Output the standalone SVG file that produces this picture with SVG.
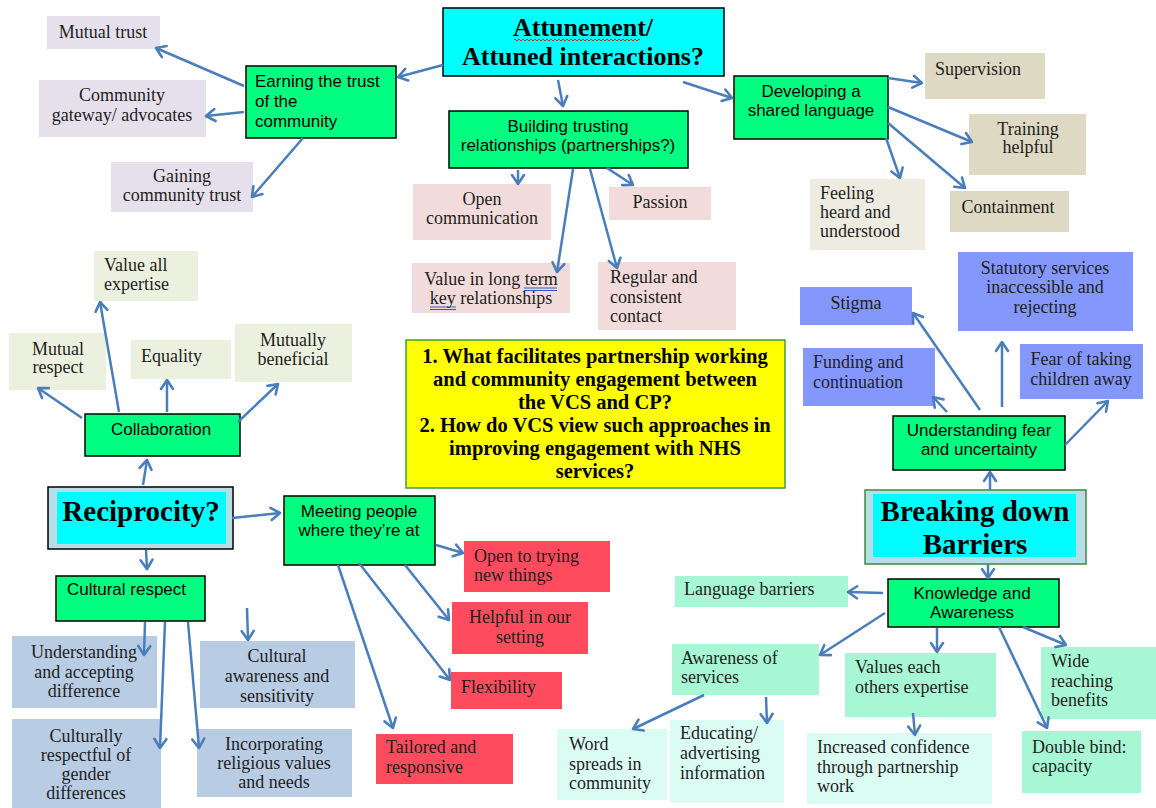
<svg xmlns="http://www.w3.org/2000/svg" width="1156" height="808" viewBox="0 0 1156 808">
<style>
.s{font-family:"Liberation Serif","Times New Roman",serif;font-size:18px;fill:#1e1e1e}
.a{font-family:"Liberation Sans",Arial,sans-serif;font-size:17px;fill:#000}
.c{text-anchor:middle}
.t{font-family:"Liberation Serif","Times New Roman",serif;font-weight:bold;fill:#000;text-anchor:middle}
.g{fill:#00ff80;stroke:#000;stroke-width:1.5}
.lav{fill:#e5e0ec}.pink{fill:#f2dcdb}.tan{fill:#ddd9c3}.tan2{fill:#eeece1}.lg{fill:#ebf1de}
.per{fill:#8497fc}.bg{fill:#b8cce4}.red{fill:#fe4b5d}.mint{fill:#a8f7d4}.mint2{fill:#dbfcf3}
.dbl{stroke:#3355cc;stroke-width:1;fill:none}
#connectors line{stroke:#4a7ebb;stroke-width:2.5;marker-end:url(#ah)}
</style>
<defs>
<marker id="ah" markerUnits="userSpaceOnUse" markerWidth="16" markerHeight="16" viewBox="0 0 16 16" refX="13" refY="8" orient="auto">
<path d="M4,2 L13,8 L4,14" fill="none" stroke="#4a7ebb" stroke-width="2.6" stroke-linecap="round" stroke-linejoin="round"/>
</marker>
</defs>
<rect width="1156" height="808" fill="#fff"/>

<g id="attunement"><rect x="443" y="8" width="281" height="68" fill="#00ffff" stroke="#000" stroke-width="1.5"/>
<text class="t" font-size="26" x="583" y="36">Attunement/</text>
<text class="t" font-size="26" x="583" y="65">Attuned interactions?</text>
<path d="M514,40 q1,-2 2,0 t2,0 t2,0 t2,0 t2,0 t2,0 t2,0 t2,0 t2,0 t2,0 t2,0 t2,0 t2,0 t2,0 t2,0 t2,0 t2,0 t2,0 t2,0 t2,0 t2,0 t2,0 t2,0 t2,0 t2,0 t2,0 t2,0 t2,0 t2,0 t2,0 t2,0 t2,0 t2,0 t2,0 t2,0 t2,0 t2,0 t2,0 t2,0 t2,0 t2,0 t2,0 t2,0 t2,0 t2,0 t2,0 t2,0 t2,0 t2,0 t2,0 t2,0 t2,0 t2,0 t2,0 t2,0 t2,0 t2,0 t2,0 t2,0 t2,0 t2,0 t2,0 t2,0" fill="none" stroke="#e02020" stroke-width="1"/></g>

<g id="earning"><rect class="g" x="246" y="66" width="150" height="72"/>
<text class="a" x="255" y="87">Earning the trust</text><text class="a" x="255" y="107">of the</text><text class="a" x="255" y="127">community</text></g>
<g id="mutual-trust"><rect class="lav" x="47" y="16" width="113" height="33"/><text class="s c" x="103" y="38">Mutual trust</text></g>
<g id="community-gateway"><rect class="lav" x="39" y="80" width="167" height="57"/><text class="s c" x="122" y="101">Community</text><text class="s c" x="122" y="121">gateway/ advocates</text></g>
<g id="gaining"><rect class="lav" x="111" y="162" width="142" height="50"/><text class="s c" x="182" y="182">Gaining</text><text class="s c" x="182" y="201">community trust</text></g>

<g id="building"><rect class="g" x="449" y="111" width="239" height="57"/><text class="a c" x="568" y="132">Building trusting</text><text class="a c" x="568" y="151">relationships (partnerships?)</text></g>
<g id="open-communication"><rect class="pink" x="413" y="184" width="138" height="56"/><text class="s c" x="482" y="205">Open</text><text class="s c" x="482" y="224">communication</text></g>
<g id="passion"><rect class="pink" x="609" y="187" width="102" height="33"/><text class="s c" x="660" y="208">Passion</text></g>
<g id="value-long-term"><rect class="pink" x="412" y="263" width="158" height="50"/><text class="s c" x="491" y="285">Value in long term</text><text class="s c" x="491" y="304">key relationships</text>
<path class="dbl" d="M524,288 H557 M524,290.5 H557 M430,307 H456 M430,309.5 H456"/></g>
<g id="regular"><rect class="pink" x="598" y="262" width="138" height="68"/><text class="s" x="610" y="283">Regular and</text><text class="s" x="610" y="303">consistent</text><text class="s" x="610" y="322">contact</text></g>

<g id="developing"><rect class="g" x="734" y="76" width="154" height="63"/><text class="a c" x="811" y="97">Developing a</text><text class="a c" x="811" y="116">shared language</text></g>
<g id="supervision"><rect class="tan" x="925" y="53" width="120" height="46"/><text class="s" x="935" y="75">Supervision</text></g>
<g id="training"><rect class="tan" x="969" y="114" width="117" height="61"/><text class="s c" x="1028" y="135">Training</text><text class="s c" x="1028" y="153">helpful</text></g>
<g id="containment"><rect class="tan" x="950" y="191" width="119" height="41"/><text class="s c" x="1008" y="213">Containment</text></g>
<g id="feeling"><rect class="tan2" x="810" y="179" width="115" height="71"/><text class="s" x="820" y="199">Feeling</text><text class="s" x="820" y="218">heard and</text><text class="s" x="820" y="237">understood</text></g>

<g id="collaboration"><rect class="g" x="85" y="414" width="155" height="42"/><text class="a c" x="161" y="435">Collaboration</text></g>
<g id="value-all"><rect class="lg" x="94" y="251" width="104" height="50"/><text class="s" x="104" y="271">Value all</text><text class="s" x="104" y="290">expertise</text></g>
<g id="mutual-respect"><rect class="lg" x="9" y="333" width="97" height="57"/><text class="s c" x="58" y="355">Mutual</text><text class="s c" x="58" y="373">respect</text></g>
<g id="equality"><rect class="lg" x="131" y="340" width="100" height="39"/><text class="s" x="141" y="362">Equality</text></g>
<g id="mutually-beneficial"><rect class="lg" x="235" y="324" width="117" height="58"/><text class="s c" x="293" y="346">Mutually</text><text class="s c" x="293" y="365">beneficial</text></g>

<g id="question"><rect x="406" y="340" width="379" height="148" fill="#ffff00" stroke="#3ca03c" stroke-width="1.5"/>
<text class="t" font-size="20.5" x="595" y="363">1. What facilitates partnership working</text>
<text class="t" font-size="20.5" x="595" y="386">and community engagement between</text>
<text class="t" font-size="20.5" x="595" y="409">the VCS and CP?</text>
<text class="t" font-size="20.5" x="595" y="432">2. How do VCS view such approaches in</text>
<text class="t" font-size="20.5" x="595" y="455">improving engagement with NHS</text>
<text class="t" font-size="20.5" x="595" y="478">services?</text></g>

<g id="understanding-fear"><rect class="g" x="893" y="416" width="172" height="54"/><text class="a c" x="979" y="436">Understanding fear</text><text class="a c" x="979" y="455">and uncertainty</text></g>
<g id="stigma"><rect class="per" x="800" y="287" width="112" height="38"/><text class="s c" x="856" y="309">Stigma</text></g>
<g id="statutory"><rect class="per" x="958" y="252" width="175" height="79"/><text class="s c" x="1045" y="274">Statutory services</text><text class="s c" x="1045" y="293">inaccessible and</text><text class="s c" x="1045" y="313">rejecting</text></g>
<g id="funding"><rect class="per" x="803" y="348" width="132" height="58"/><text class="s" x="813" y="368">Funding and</text><text class="s" x="813" y="388">continuation</text></g>
<g id="fear-children"><rect class="per" x="1020" y="344" width="123" height="55"/><text class="s c" x="1081" y="365">Fear of taking</text><text class="s c" x="1081" y="385">children away</text></g>

<g id="reciprocity"><rect x="48" y="487" width="185" height="62" fill="#b7dde8" stroke="#000" stroke-width="1.5"/><rect x="57" y="492" width="169" height="52" fill="#00ffff"/>
<text class="t" font-size="29" x="141" y="521">Reciprocity?</text></g>
<g id="cultural-respect"><rect class="g" x="56" y="576" width="149" height="45"/><text class="a" x="67" y="595">Cultural respect</text></g>
<g id="understanding-difference"><rect class="bg" x="12" y="636" width="145" height="72"/><text class="s c" x="84" y="658">Understanding</text><text class="s c" x="84" y="678">and accepting</text><text class="s c" x="84" y="697">difference</text></g>
<g id="cultural-awareness"><rect class="bg" x="200" y="641" width="155" height="67"/><text class="s c" x="277" y="662">Cultural</text><text class="s c" x="277" y="682">awareness and</text><text class="s c" x="277" y="702">sensitivity</text></g>
<g id="culturally-respectful"><rect class="bg" x="12" y="719" width="149" height="89"/><text class="s c" x="86" y="742">Culturally</text><text class="s c" x="86" y="761">respectful of</text><text class="s c" x="86" y="780">gender</text><text class="s c" x="86" y="799">differences</text></g>
<g id="incorporating"><rect class="bg" x="197" y="729" width="155" height="68"/><text class="s c" x="274" y="750">Incorporating</text><text class="s c" x="274" y="769">religious values</text><text class="s c" x="274" y="788">and needs</text></g>

<g id="meeting"><rect class="g" x="284" y="496" width="151" height="69"/><text class="a c" x="359" y="517">Meeting people</text><text class="a c" x="359" y="536">where they’re at</text></g>
<g id="open-trying"><rect class="red" x="464" y="541" width="146" height="51"/><text class="s" x="474" y="562">Open to trying</text><text class="s" x="474" y="581">new things</text></g>
<g id="helpful"><rect class="red" x="452" y="602" width="136" height="52"/><text class="s c" x="520" y="623">Helpful in our</text><text class="s c" x="520" y="643">setting</text></g>
<g id="flexibility"><rect class="red" x="451" y="672" width="111" height="37"/><text class="s" x="461" y="693">Flexibility</text></g>
<g id="tailored"><rect class="red" x="376" y="734" width="137" height="50"/><text class="s" x="386" y="753">Tailored and</text><text class="s" x="386" y="773">responsive</text></g>

<g id="breaking-down"><rect x="865" y="490" width="221" height="74" fill="#b7dde8" stroke="#3c8a3c" stroke-width="1.5"/><rect x="873" y="494" width="203" height="63" fill="#00ffff"/>
<text class="t" font-size="29" x="975" y="521">Breaking down</text><text class="t" font-size="29" x="975" y="554">Barriers</text></g>
<g id="knowledge"><rect class="g" x="888" y="579" width="171" height="48"/><text class="a c" x="972" y="599">Knowledge and</text><text class="a c" x="972" y="618">Awareness</text></g>
<g id="language"><rect class="mint" x="675" y="576" width="173" height="31"/><text class="s" x="684" y="595">Language barriers</text></g>
<g id="awareness-services"><rect class="mint" x="672" y="644" width="147" height="51"/><text class="s" x="681" y="664">Awareness of</text><text class="s" x="681" y="683">services</text></g>
<g id="values-expertise"><rect class="mint" x="845" y="653" width="151" height="64"/><text class="s" x="855" y="673">Values each</text><text class="s" x="855" y="693">others expertise</text></g>
<g id="wide-reaching"><rect class="mint" x="1041" y="647" width="115" height="72"/><text class="s" x="1051" y="667">Wide</text><text class="s" x="1051" y="687">reaching</text><text class="s" x="1051" y="706">benefits</text></g>
<g id="word-spreads"><rect class="mint2" x="557" y="729" width="110" height="71"/><text class="s" x="569" y="750">Word</text><text class="s" x="569" y="770">spreads in</text><text class="s" x="569" y="789">community</text></g>
<g id="educating"><rect class="mint2" x="670" y="720" width="114" height="83"/><text class="s" x="680" y="739">Educating/</text><text class="s" x="680" y="759">advertising</text><text class="s" x="680" y="779">information</text></g>
<g id="increased-confidence"><rect class="mint2" x="807" y="733" width="185" height="71"/><text class="s" x="817" y="753">Increased confidence</text><text class="s" x="817" y="773">through partnership</text><text class="s" x="817" y="792">work</text></g>
<g id="double-bind"><rect class="mint" x="1022" y="731" width="119" height="62"/><text class="s" x="1032" y="753">Double bind:</text><text class="s" x="1032" y="772">capacity</text></g>

<g id="connectors">
<line x1="443" y1="65" x2="398" y2="77"/>
<line x1="558" y1="80" x2="563" y2="106"/>
<line x1="683" y1="82" x2="732" y2="98"/>
<line x1="244" y1="86" x2="156" y2="48"/>
<line x1="244" y1="112" x2="206" y2="116"/>
<line x1="303" y1="138" x2="252" y2="197"/>
<line x1="518" y1="170" x2="518" y2="184"/>
<line x1="607" y1="168" x2="633" y2="185"/>
<line x1="573" y1="169" x2="557" y2="272"/>
<line x1="590" y1="169" x2="617" y2="268"/>
<line x1="888" y1="78" x2="922" y2="83"/>
<line x1="888" y1="107" x2="972" y2="142"/>
<line x1="888" y1="123" x2="965" y2="188"/>
<line x1="886" y1="138" x2="900" y2="178"/>
<line x1="82" y1="418" x2="38" y2="388"/>
<line x1="119" y1="412" x2="100" y2="302"/>
<line x1="167" y1="412" x2="167" y2="380"/>
<line x1="238" y1="422" x2="278" y2="384"/>
<line x1="143" y1="485" x2="147" y2="460"/>
<line x1="232" y1="518" x2="280" y2="513"/>
<line x1="146" y1="550" x2="147" y2="569"/>
<line x1="145" y1="622" x2="144" y2="655"/>
<line x1="165" y1="622" x2="160" y2="748"/>
<line x1="188" y1="622" x2="199" y2="748"/>
<line x1="247" y1="608" x2="248" y2="640"/>
<line x1="436" y1="545" x2="463" y2="553"/>
<line x1="405" y1="565" x2="449" y2="620"/>
<line x1="359" y1="563" x2="450" y2="680"/>
<line x1="338" y1="565" x2="393" y2="728"/>
<line x1="947" y1="412" x2="933" y2="397"/>
<line x1="980" y1="410" x2="913" y2="313"/>
<line x1="1002" y1="407" x2="1002" y2="342"/>
<line x1="1065" y1="445" x2="1108" y2="401"/>
<line x1="990" y1="490" x2="990" y2="472"/>
<line x1="988" y1="564" x2="988" y2="578"/>
<line x1="883" y1="593" x2="848" y2="592"/>
<line x1="885" y1="613" x2="820" y2="655"/>
<line x1="937" y1="628" x2="937" y2="652"/>
<line x1="999" y1="627" x2="1047" y2="728"/>
<line x1="1023" y1="627" x2="1066" y2="645"/>
<line x1="704" y1="695" x2="633" y2="729"/>
<line x1="766" y1="697" x2="767" y2="723"/>
<line x1="913" y1="713" x2="915" y2="735"/>
</g>
</svg>
